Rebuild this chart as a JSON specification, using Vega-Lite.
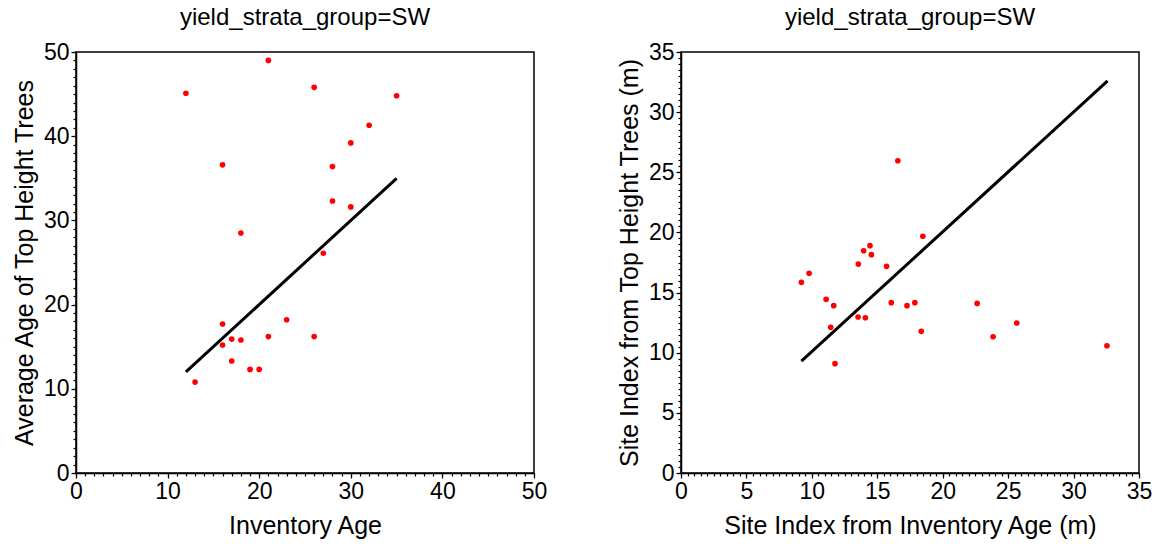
{
  "$schema": "https://vega.github.io/schema/vega-lite/v6.json",
  "background": "white",
  "padding": {"left": 11, "top": 5, "right": 5, "bottom": 5},
  "spacing": 147,
  "bounds": "flush",
  "config": {
    "font": "Liberation Sans",
    "view": {"stroke": "black", "strokeWidth": 1.5},
    "axis": {
      "grid": false,
      "domainColor": "black",
      "domainWidth": 1.5,
      "tickColor": "black",
      "tickWidth": 1.2,
      "labelColor": "black",
      "titleColor": "black",
      "labelFont": "Liberation Sans",
      "titleFont": "Liberation Sans",
      "labelFontSize": 23,
      "titleFontSize": 25,
      "titleFontWeight": "normal",
      "labelFlush": false,
      "labelOverlap": false
    },
    "title": {"font": "Liberation Sans", "fontSize": 24, "fontWeight": "normal", "color": "black"}
  },
  "datasets": {
    "left_pts": [
      {"inv": 12, "top": 45.1},
      {"inv": 21, "top": 49.0},
      {"inv": 26, "top": 45.8},
      {"inv": 35, "top": 44.8},
      {"inv": 32, "top": 41.3},
      {"inv": 30, "top": 39.2},
      {"inv": 16, "top": 36.6},
      {"inv": 28, "top": 36.4},
      {"inv": 28, "top": 32.3},
      {"inv": 30, "top": 31.6},
      {"inv": 18, "top": 28.5},
      {"inv": 27, "top": 26.1},
      {"inv": 16, "top": 17.7},
      {"inv": 23, "top": 18.2},
      {"inv": 17, "top": 15.9},
      {"inv": 18, "top": 15.8},
      {"inv": 21, "top": 16.2},
      {"inv": 26, "top": 16.2},
      {"inv": 16, "top": 15.2},
      {"inv": 17, "top": 13.3},
      {"inv": 19, "top": 12.3},
      {"inv": 20, "top": 12.3},
      {"inv": 13, "top": 10.8}
    ],
    "left_line": [
      {"inv": 12, "top": 12},
      {"inv": 35, "top": 35}
    ],
    "right_pts": [
      {"si_inv": 16.57, "si_top": 25.96},
      {"si_inv": 18.48, "si_top": 19.68},
      {"si_inv": 14.44, "si_top": 18.9},
      {"si_inv": 13.96, "si_top": 18.48},
      {"si_inv": 14.55, "si_top": 18.15},
      {"si_inv": 13.55, "si_top": 17.37},
      {"si_inv": 15.71, "si_top": 17.18},
      {"si_inv": 9.79, "si_top": 16.6},
      {"si_inv": 9.2, "si_top": 15.85},
      {"si_inv": 11.09, "si_top": 14.44},
      {"si_inv": 11.67, "si_top": 13.91},
      {"si_inv": 16.07, "si_top": 14.16},
      {"si_inv": 17.27, "si_top": 13.91},
      {"si_inv": 17.87, "si_top": 14.16},
      {"si_inv": 13.53, "si_top": 12.97},
      {"si_inv": 14.09, "si_top": 12.91},
      {"si_inv": 11.44, "si_top": 12.11},
      {"si_inv": 18.36, "si_top": 11.78},
      {"si_inv": 11.77, "si_top": 9.09},
      {"si_inv": 22.63, "si_top": 14.1},
      {"si_inv": 25.66, "si_top": 12.47},
      {"si_inv": 23.85, "si_top": 11.33},
      {"si_inv": 32.55, "si_top": 10.58}
    ],
    "right_line": [
      {"si_inv": 9.2, "si_top": 9.3},
      {"si_inv": 32.6, "si_top": 32.6}
    ]
  },
  "hconcat": [
    {
      "width": 458,
      "height": 421,
      "title": {"text": "yield_strata_group=SW", "offset": 11},
      "layer": [
        {
          "data": {"name": "left_pts"},
          "mark": {"type": "circle", "color": "red", "opacity": 1, "size": 32},
          "encoding": {
            "x": {"field": "inv", "type": "quantitative", "scale": {"domain": [0, 50], "nice": false},
              "axis": {"orient": "bottom", "values": [0, 10, 20, 30, 40, 50], "tickSize": 5, "labelPadding": 2, "title": "Inventory Age", "titlePadding": 10}},
            "y": {"field": "top", "type": "quantitative", "scale": {"domain": [0, 50], "nice": false},
              "axis": {"orient": "left", "values": [0, 10, 20, 30, 40, 50], "tickSize": 5, "labelPadding": 2, "title": "Average Age of Top Height Trees", "titlePadding": 6}}
          }
        },
        {
          "data": {"name": "left_line"},
          "mark": {"type": "line", "color": "black", "strokeWidth": 3},
          "encoding": {
            "x": {"field": "inv", "type": "quantitative", "scale": {"domain": [0, 50], "nice": false},
              "axis": {"orient": "bottom", "values": [0,1,2,3,4,5,6,7,8,9,10,11,12,13,14,15,16,17,18,19,20,21,22,23,24,25,26,27,28,29,30,31,32,33,34,35,36,37,38,39,40,41,42,43,44,45,46,47,48,49,50], "tickSize": 3, "labels": false, "domain": false, "title": null}},
            "y": {"field": "top", "type": "quantitative", "scale": {"domain": [0, 50], "nice": false},
              "axis": {"orient": "left", "values": [0,1,2,3,4,5,6,7,8,9,10,11,12,13,14,15,16,17,18,19,20,21,22,23,24,25,26,27,28,29,30,31,32,33,34,35,36,37,38,39,40,41,42,43,44,45,46,47,48,49,50], "tickSize": 3, "labels": false, "domain": false, "title": null}}
          }
        }
      ],
      "resolve": {"axis": {"x": "independent", "y": "independent"}}
    },
    {
      "width": 458,
      "height": 421,
      "title": {"text": "yield_strata_group=SW", "offset": 11},
      "layer": [
        {
          "data": {"name": "right_pts"},
          "mark": {"type": "circle", "color": "red", "opacity": 1, "size": 32},
          "encoding": {
            "x": {"field": "si_inv", "type": "quantitative", "scale": {"domain": [0, 35], "nice": false},
              "axis": {"orient": "bottom", "values": [0, 5, 10, 15, 20, 25, 30, 35], "tickSize": 5, "labelPadding": 2, "title": "Site Index from Inventory Age (m)", "titlePadding": 10}},
            "y": {"field": "si_top", "type": "quantitative", "scale": {"domain": [0, 35], "nice": false},
              "axis": {"orient": "left", "values": [0, 5, 10, 15, 20, 25, 30, 35], "tickSize": 5, "labelPadding": 2, "title": "Site Index from Top Height Trees (m)", "titlePadding": 6}}
          }
        },
        {
          "data": {"name": "right_line"},
          "mark": {"type": "line", "color": "black", "strokeWidth": 3},
          "encoding": {
            "x": {"field": "si_inv", "type": "quantitative", "scale": {"domain": [0, 35], "nice": false},
              "axis": {"orient": "bottom", "values": [0,0.5,1,1.5,2,2.5,3,3.5,4,4.5,5,5.5,6,6.5,7,7.5,8,8.5,9,9.5,10,10.5,11,11.5,12,12.5,13,13.5,14,14.5,15,15.5,16,16.5,17,17.5,18,18.5,19,19.5,20,20.5,21,21.5,22,22.5,23,23.5,24,24.5,25,25.5,26,26.5,27,27.5,28,28.5,29,29.5,30,30.5,31,31.5,32,32.5,33,33.5,34,34.5,35], "tickSize": 3, "labels": false, "domain": false, "title": null}},
            "y": {"field": "si_top", "type": "quantitative", "scale": {"domain": [0, 35], "nice": false},
              "axis": {"orient": "left", "values": [0,0.5,1,1.5,2,2.5,3,3.5,4,4.5,5,5.5,6,6.5,7,7.5,8,8.5,9,9.5,10,10.5,11,11.5,12,12.5,13,13.5,14,14.5,15,15.5,16,16.5,17,17.5,18,18.5,19,19.5,20,20.5,21,21.5,22,22.5,23,23.5,24,24.5,25,25.5,26,26.5,27,27.5,28,28.5,29,29.5,30,30.5,31,31.5,32,32.5,33,33.5,34,34.5,35], "tickSize": 3, "labels": false, "domain": false, "title": null}}
          }
        }
      ],
      "resolve": {"axis": {"x": "independent", "y": "independent"}}
    }
  ]
}
